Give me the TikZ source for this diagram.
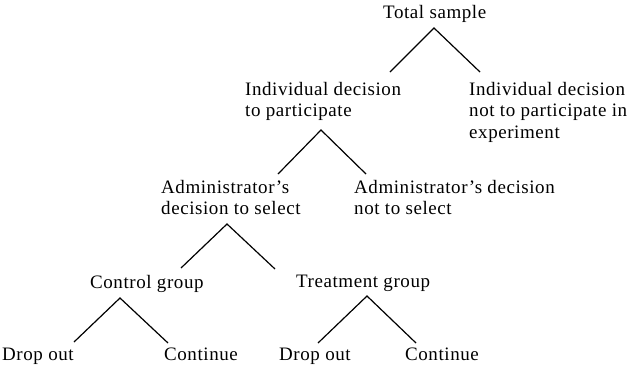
\documentclass[tikz,border=0pt]{standalone}
\usepackage{fontspec}
\setmainfont[LetterSpace=3]{Liberation Serif}
\begin{document}
\begin{tikzpicture}[x=1pt,y=-1pt,
  lbl/.style={inner sep=0pt, anchor=north west, align=left, font=\fontsize{19}{21.5}\selectfont},
  br/.style={line width=1.2pt}]
\useasboundingbox (0,0) rectangle (637,368);
% labels
\node[lbl] (ts) at (383,5) {Total sample};
\node[lbl] (ip) at (245,82) {Individual decision\\to participate};
\node[lbl] (np) at (469,82) {Individual decision\\not to participate in\\experiment};
\node[lbl] (as) at (161,180) {Administrator’s\\decision to select};
\node[lbl] (ns) at (354,180) {Administrator’s decision\\not to select};
\node[lbl] (cg) at (90,275) {Control group};
\node[lbl] (tg) at (296,275) {Treatment group};
\node[lbl] (d1) at (2,348) {Drop out};
\node[lbl] (c1) at (164,348) {Continue};
\node[lbl] (d2) at (279,348) {Drop out};
\node[lbl] (c2) at (405,348) {Continue};
% branch points
\coordinate (ts-a) at (434,28);
\coordinate (ip-t) at (390,72);
\coordinate (np-t) at (480,72);
\coordinate (ip-a) at (321,130);
\coordinate (as-t) at (278,174);
\coordinate (ns-t) at (366,174);
\coordinate (as-a) at (227,224);
\coordinate (cg-t) at (181,268);
\coordinate (tg-t) at (275,269);
\coordinate (cg-a) at (120,298);
\coordinate (d1-t) at (74,342);
\coordinate (c1-t) at (168,343);
\coordinate (tg-a) at (367,296);
\coordinate (d2-t) at (318,343);
\coordinate (c2-t) at (416,343);
% connectors
\draw[br] (ip-t) -- (ts-a) -- (np-t);
\draw[br] (as-t) -- (ip-a) -- (ns-t);
\draw[br] (cg-t) -- (as-a) -- (tg-t);
\draw[br] (d1-t) -- (cg-a) -- (c1-t);
\draw[br] (d2-t) -- (tg-a) -- (c2-t);
\end{tikzpicture}
\end{document}
